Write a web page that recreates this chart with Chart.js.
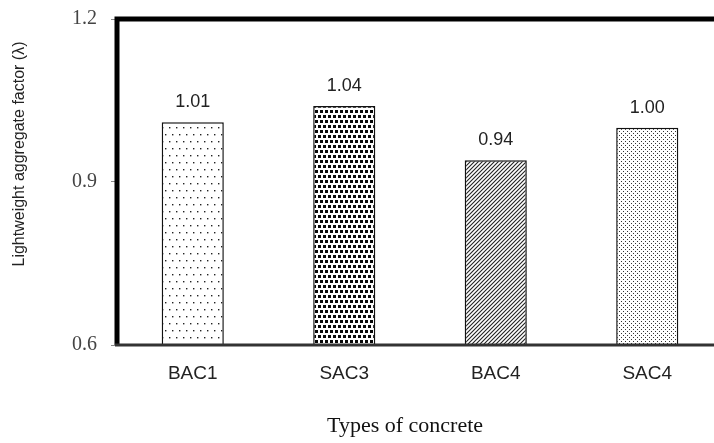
<!DOCTYPE html>
<html>
<head>
<meta charset="utf-8">
<script src="https://cdn.jsdelivr.net/npm/chart.js@4.4.1/dist/chart.umd.min.js"></script>
<style>
  html, body { margin: 0; padding: 0; background: #fff; overflow: hidden; }
  #wrap { width: 730px; height: 443px; position: relative; }
</style>
</head>
<body>
<div id="wrap"><canvas id="factor-chart" width="730" height="443"></canvas></div>
<script>
// chart data
const categories = ['BAC1', 'SAC3', 'BAC4', 'SAC4'];
const factorValues = [1.01, 1.04, 0.94, 1.00];
const yTicks = [0.6, 0.9, 1.2];
const yTitle = 'Lightweight aggregate factor (\u03bb)';
const xTitle = 'Types of concrete';

// fill patterns for the bars
function makePattern(w, h, draw) {
    const c = document.createElement('canvas');
    c.width = w;
    c.height = h;
    const g = c.getContext('2d');
    g.fillStyle = '#fff';
    g.fillRect(0, 0, w, h);
    draw(g);
    return c.getContext('2d').createPattern(c, 'repeat');
}

const sparseDots = makePattern(14, 14, g => {
    g.fillStyle = '#222';
    [[1, 1], [8, 1], [4, 8], [11, 8]].forEach(p => g.fillRect(p[0], p[1], 1.4, 1.4));
});
const denseDots = makePattern(5, 10, g => {
    g.fillStyle = '#0a0a0a';
    g.fillRect(0, 0, 3, 3);
    g.fillRect(3, 5, 3, 3);
    g.fillRect(-2, 5, 3, 3);
});
const hatch = makePattern(4, 4, g => {
    g.strokeStyle = '#222';
    g.lineWidth = 1.1;
    g.beginPath();
    g.moveTo(-1, 5); g.lineTo(5, -1);
    g.moveTo(-1, 1); g.lineTo(1, -1);
    g.moveTo(3, 5); g.lineTo(5, 3);
    g.stroke();
});
const fineDots = makePattern(4, 4, g => {
    g.fillStyle = '#333';
    g.fillRect(1, 1, 1, 1);
    g.fillRect(3, 3, 1, 1);
});

// frame, labels and axis titles
const decorations = {
    id: 'decorations',
    afterDatasetsDraw(chart) {
        const ctx = chart.ctx;
        const a = chart.chartArea;
        ctx.save();
        // value labels
        ctx.fillStyle = '#222';
        ctx.font = '18px "Liberation Sans", Arial, sans-serif';
        ctx.textAlign = 'center';
        ctx.textBaseline = 'middle';
        chart.getDatasetMeta(0).data.forEach((bar, i) => {
            ctx.fillText(factorValues[i].toFixed(2), bar.x, bar.y - 20);
        });
        // frame
        ctx.strokeStyle = '#000';
        ctx.lineWidth = 5;
        ctx.beginPath();
        ctx.moveTo(a.left, a.bottom);
        ctx.lineTo(a.left, a.top);
        ctx.lineTo(a.right, a.top);
        ctx.stroke();
        ctx.strokeStyle = '#333';
        ctx.lineWidth = 3;
        ctx.beginPath();
        ctx.moveTo(a.left - 2, a.bottom);
        ctx.lineTo(a.right, a.bottom);
        ctx.stroke();
        // axis titles
        ctx.fillStyle = '#111';
        ctx.font = '22px "Liberation Serif", "Times New Roman", serif';
        ctx.fillText(xTitle, 405, 426);
        ctx.translate(20, 154);
        ctx.rotate(-Math.PI / 2);
        ctx.font = '16px "Liberation Sans", Arial, sans-serif';
        ctx.fillStyle = '#222';
        ctx.fillText(yTitle, 0, 0);
        ctx.restore();
    }
};

const ctx = document.getElementById('factor-chart').getContext('2d');
const factorChart = new Chart(ctx, {
    type: 'bar',
    data: {
        labels: categories,
        datasets: [{
            data: factorValues,
            backgroundColor: [sparseDots, denseDots, hatch, fineDots],
            borderColor: '#111',
            borderWidth: 1.5,
            borderSkipped: 'bottom',
            barPercentage: 0.41,
            categoryPercentage: 1
        }]
    },
    options: {
        responsive: false,
        maintainAspectRatio: false,
        animation: false,
        devicePixelRatio: 1,
        layout: { padding: { top: 19, right: 7, left: 0, bottom: 0 } },
        plugins: {
            legend: { display: false },
            tooltip: { enabled: false }
        },
        scales: {
            x: {
                grid: { display: false },
                border: { display: false },
                ticks: {
                    color: '#222',
                    padding: 9,
                    font: { family: '"Liberation Sans", Arial, sans-serif', size: 19 }
                },
                afterFit(scale) { scale.height = 98; }
            },
            y: {
                min: 0.6,
                max: 1.2,
                afterBuildTicks(scale) { scale.ticks = yTicks.map(v => ({ value: v })); },
                grid: { drawOnChartArea: false, tickLength: 6, color: '#888' },
                border: { display: false },
                ticks: {
                    color: '#444',
                    padding: 14,
                    callback: v => v.toFixed(1),
                    font: { family: '"Liberation Serif", "Times New Roman", serif', size: 20 }
                },
                afterFit(scale) {
                    scale.width = 117;
                    scale.paddingTop = 0;
                    scale.paddingBottom = 0;
                }
            }
        }
    },
    plugins: [decorations]
});
</script>
</body>
</html>
